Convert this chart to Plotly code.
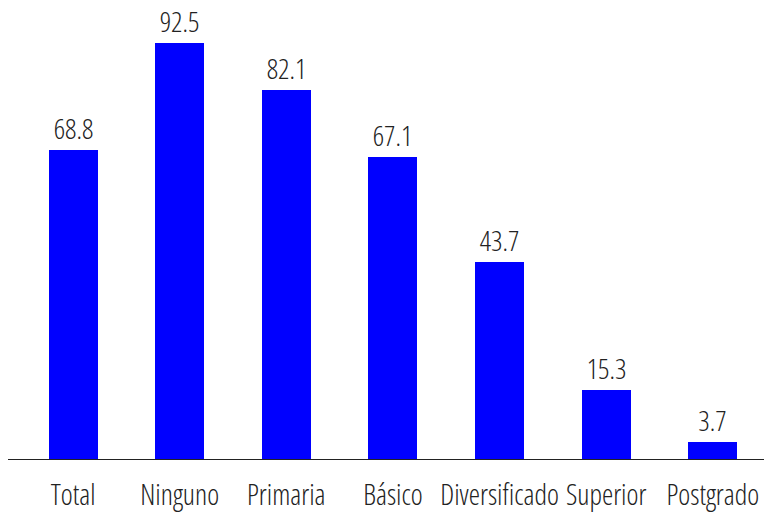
import plotly.graph_objects as go

categorias = ["Total", "Ninguno", "Primaria", "Básico", "Diversificado", "Superior", "Postgrado"]
valores = [68.8, 92.5, 82.1, 67.1, 43.7, 15.3, 3.7]


def condensada(texto):
    # Open Sans Light in its condensed width
    return f'<span style="font-stretch:condensed">{texto}</span>'


fig = go.Figure(go.Bar(
    x=categorias, y=valores,
    marker=dict(color="#0000FF", line=dict(width=0)),
    width=0.46,
    text=[condensada(f"{v:.1f}") for v in valores],
    textposition="outside",
    cliponaxis=False,
    textfont=dict(family="Open Sans", size=28, color="#222", weight=300),
    hoverinfo="skip",
))

fig.update_layout(
    width=764, height=514,
    margin=dict(l=8, r=0, t=20, b=55),
    paper_bgcolor="white", plot_bgcolor="white",
    showlegend=False,
    bargap=0,
    font=dict(family="Open Sans", size=28, color="#222", weight=300),
    xaxis=dict(
        range=[-0.61, 6.48], showline=True, linecolor="#222", linewidth=1,
        ticks="", showgrid=False, automargin=False, tickangle=0,
        ticklabelstandoff=11,
        tickmode="array", tickvals=categorias,
        ticktext=[condensada(c) for c in categorias],
        tickfont=dict(family="Open Sans", size=28.5, color="#222", weight=300),
    ),
    yaxis=dict(range=[0, 97.6], visible=False, showgrid=False, automargin=False),
)
fig.write_html("out.html")
